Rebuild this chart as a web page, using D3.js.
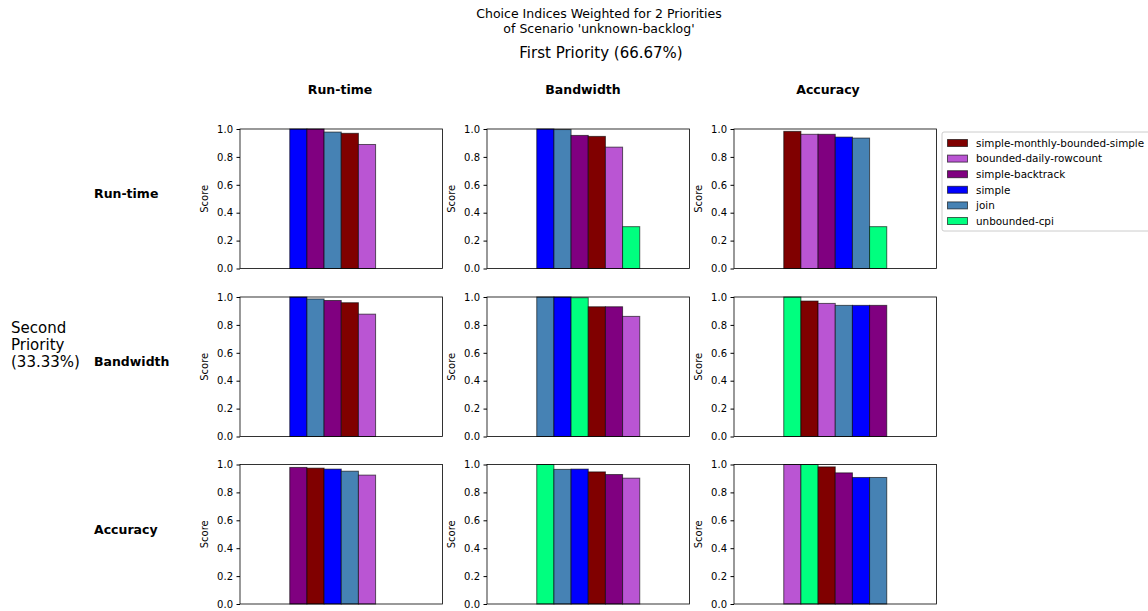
<!DOCTYPE html>
<html>
<head>
<meta charset="utf-8">
<script src="https://cdn.jsdelivr.net/npm/d3@7"></script>
<style>
  body { margin: 0; background: #fff; }
  text { font-family: "DejaVu Sans", sans-serif; fill: #000; }
</style>
</head>
<body>
<div id="main"></div>
<script>
const W = 1148, H = 611;

// series and their colours
const seriesNames = ["simple-monthly-bounded-simple", "bounded-daily-rowcount", "simple-backtrack", "simple", "join", "unbounded-cpi"];
const seriesColors = ["#800000", "#ba55d3", "#800080", "#0000ff", "#4682b4", "#00ff7f"];

const priorities = ["Run-time", "Bandwidth", "Accuracy"];
const yTicks = [0.0, 0.2, 0.4, 0.6, 0.8, 1.0];

// panel[row][col] : bars in drawn order (row = second priority, col = first priority)
const rtRt = [["simple", 1.0], ["simple-backtrack", 1.0], ["join", 0.978], ["simple-monthly-bounded-simple", 0.969], ["bounded-daily-rowcount", 0.889], ["unbounded-cpi", 0.0]];
const rtBw = [["simple", 1.0], ["join", 0.996], ["simple-backtrack", 0.954], ["simple-monthly-bounded-simple", 0.947], ["bounded-daily-rowcount", 0.870], ["unbounded-cpi", 0.30]];
const rtAc = [["simple-monthly-bounded-simple", 0.983], ["bounded-daily-rowcount", 0.962], ["simple-backtrack", 0.962], ["simple", 0.942], ["join", 0.935], ["unbounded-cpi", 0.30]];
const bwRt = [["simple", 1.0], ["join", 0.986], ["simple-backtrack", 0.975], ["simple-monthly-bounded-simple", 0.959], ["bounded-daily-rowcount", 0.877], ["unbounded-cpi", 0.0]];
const bwBw = [["join", 1.0], ["simple", 1.0], ["unbounded-cpi", 0.995], ["simple-monthly-bounded-simple", 0.930], ["simple-backtrack", 0.930], ["bounded-daily-rowcount", 0.861]];
const bwAc = [["unbounded-cpi", 1.0], ["simple-monthly-bounded-simple", 0.971], ["bounded-daily-rowcount", 0.954], ["join", 0.940], ["simple", 0.940], ["simple-backtrack", 0.940]];
const acRt = [["simple-backtrack", 0.979], ["simple-monthly-bounded-simple", 0.974], ["simple", 0.967], ["join", 0.952], ["bounded-daily-rowcount", 0.924], ["unbounded-cpi", 0.0]];
const acBw = [["unbounded-cpi", 1.0], ["join", 0.965], ["simple", 0.967], ["simple-monthly-bounded-simple", 0.947], ["simple-backtrack", 0.928], ["bounded-daily-rowcount", 0.902]];
const acAc = [["bounded-daily-rowcount", 1.0], ["unbounded-cpi", 1.0], ["simple-monthly-bounded-simple", 0.983], ["simple-backtrack", 0.940], ["simple", 0.907], ["join", 0.907]];

const panels = [[rtRt, rtBw, rtAc], [bwRt, bwBw, bwAc], [acRt, acBw, acAc]];

const color = d3.scaleOrdinal().domain(seriesNames).range(seriesColors);

const colX = [240, 487, 734];
const rowY = [129, 297, 464.5];
const pw = 202.5, ph = 139.5;
const headX = [340, 583, 828];

const svg = d3.select("#main").append("svg").attr("width", W).attr("height", H);

// titles
svg.append("text").attr("x", 599).attr("y", 17.5).attr("text-anchor", "middle")
   .style("font-size", "12.5px").text("Choice Indices Weighted for 2 Priorities");
svg.append("text").attr("x", 599).attr("y", 33).attr("text-anchor", "middle")
   .style("font-size", "12.5px").text("of Scenario 'unknown-backlog'");
svg.append("text").attr("x", 601).attr("y", 58).attr("text-anchor", "middle")
   .style("font-size", "15px").text("First Priority (66.67%)");

["Second", "Priority", "(33.33%)"].forEach(function(t, i){
    svg.append("text").attr("x", 11).attr("y", 333 + i * 17)
       .style("font-size", "15px").text(t);
});

priorities.forEach(function(p, i){
    svg.append("text").attr("x", headX[i]).attr("y", 94).attr("text-anchor", "middle")
       .style("font-size", "12.5px").style("font-weight", "bold").text(p);
    svg.append("text").attr("x", 94).attr("y", rowY[i] + ph / 2 - 0.5)
       .style("font-size", "12.5px").style("font-weight", "bold").text(p);
});

function drawPanel(g, data){
    let y = d3.scaleLinear().domain([0, 1]).range([ph, 0]);
    let x = d3.scaleBand().domain(d3.range(data.length)).range([pw / 2 - 51.5, pw / 2 + 51.5]).padding(0);

    g.append("rect").attr("width", pw).attr("height", ph).attr("fill", "#fff");

    g.selectAll("rect.bar")
        .data(data)
        .enter()
        .append("rect")
        .attr("class", "bar")
        .attr("x", (d, i) => x(i))
        .attr("y", d => y(d[1]))
        .attr("width", x.bandwidth())
        .attr("height", d => ph - y(d[1]))
        .attr("fill", d => color(d[0]))
        .attr("stroke", "#000")
        .attr("stroke-opacity", 0.6)
        .attr("stroke-width", 1);

    let ax = g.append("g").call(d3.axisLeft(y).tickValues(yTicks).tickFormat(d3.format(".1f")).tickSize(3.5).tickPadding(3.5));
    ax.select(".domain").remove();
    ax.selectAll("line").attr("stroke", "#000");
    ax.selectAll("text").style("font-size", "10px").style("font-family", "DejaVu Sans, sans-serif");

    g.append("rect").attr("width", pw).attr("height", ph)
        .attr("fill", "none").attr("stroke", "#000").attr("stroke-width", 0.8);

    g.append("text").attr("transform", "translate(-32," + (ph / 2) + ") rotate(-90)")
        .attr("text-anchor", "middle").style("font-size", "10px").text("Score");
}

panels.forEach(function(row, r){
    row.forEach(function(data, c){
        let g = svg.append("g").attr("transform", "translate(" + colX[c] + "," + rowY[r] + ")");
        drawPanel(g, data);
    });
});

// legend
let lg = svg.append("g").attr("transform", "translate(942,132)");
lg.append("rect").attr("width", 210).attr("height", 99).attr("rx", 2)
  .attr("fill", "#fff").attr("stroke", "#ccc").attr("stroke-width", 1);
seriesNames.forEach(function(s, i){
    let yy = 11 + i * 15.6;
    lg.append("rect").attr("x", 5.5).attr("y", yy - 3.5).attr("width", 20).attr("height", 7)
      .attr("fill", color(s)).attr("stroke", "#000").attr("stroke-opacity", 0.6);
    lg.append("text").attr("x", 34).attr("y", yy + 3.8).style("font-size", "10.4px").text(s);
});
</script>
</body>
</html>
